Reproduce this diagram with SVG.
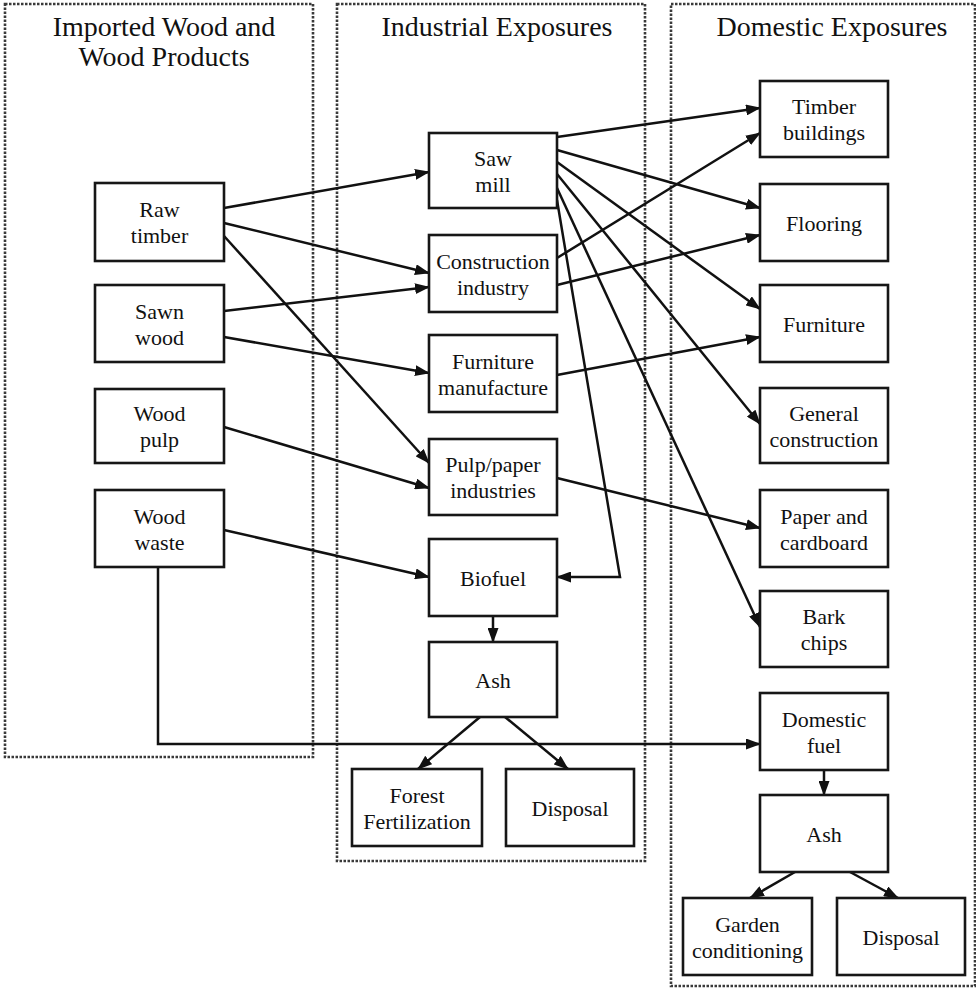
<svg xmlns="http://www.w3.org/2000/svg" width="976" height="988" viewBox="0 0 976 988">
<style>
.box{fill:#fff;stroke:#161616;stroke-width:2.6}
.cont{fill:none;stroke:#3a3a3a;stroke-width:2.6;stroke-dasharray:2.5 1.5}
.c{fill:none;stroke:#111;stroke-width:2.5}
.a{marker-end:url(#arr)}
</style>
<defs>
<marker id="arr" markerUnits="userSpaceOnUse" markerWidth="15" markerHeight="11" refX="14" refY="5.5" orient="auto">
<path d="M0,0 L15,5.5 L0,11 z" fill="#111"/>
</marker>
</defs>
<rect width="976" height="988" fill="#fff"/>
<g id="containers" font-family="'Liberation Serif', 'Times New Roman', serif" font-size="28" fill="#111" text-anchor="middle">
<rect class="cont" x="5" y="4" width="308" height="753"/>
<rect class="cont" x="337" y="4" width="308" height="857"/>
<rect class="cont" x="671" y="4" width="304" height="982"/>
<text x="164" y="36">Imported Wood and</text>
<text x="164" y="66">Wood Products</text>
<text x="497" y="36">Industrial Exposures</text>
<text x="832" y="36">Domestic Exposures</text>
</g>
<g id="connectors">
<line class="c a" x1="224" y1="208" x2="429" y2="172"/>
<line class="c a" x1="224" y1="223" x2="429" y2="273"/>
<line class="c a" x1="224" y1="236" x2="429" y2="463"/>
<line class="c a" x1="224" y1="311" x2="429" y2="287"/>
<line class="c a" x1="224" y1="337" x2="429" y2="373"/>
<line class="c a" x1="224" y1="427" x2="429" y2="488"/>
<line class="c a" x1="224" y1="530" x2="429" y2="577"/>
<path class="c a" d="M158,567 V744 H760"/>
<line class="c a" x1="557" y1="137" x2="760" y2="108"/>
<line class="c a" x1="557" y1="150" x2="760" y2="208"/>
<line class="c a" x1="557" y1="162" x2="760" y2="309"/>
<line class="c a" x1="557" y1="174" x2="760" y2="424"/>
<line class="c a" x1="557" y1="188" x2="760" y2="627"/>
<path class="c a" d="M557,200 L620,577 L557,577"/>
<line class="c a" x1="557" y1="258" x2="760" y2="133"/>
<line class="c a" x1="557" y1="285" x2="760" y2="235"/>
<line class="c a" x1="557" y1="375" x2="760" y2="337"/>
<line class="c a" x1="557" y1="478" x2="760" y2="528"/>
<line class="c a" x1="493" y1="616" x2="493" y2="642"/>
<line class="c a" x1="480" y1="717" x2="418" y2="769"/>
<line class="c a" x1="505" y1="717" x2="568" y2="769"/>
<line class="c a" x1="824" y1="770" x2="824" y2="795"/>
<line class="c a" x1="795" y1="872" x2="750" y2="898"/>
<line class="c a" x1="850" y1="872" x2="898" y2="898"/>
</g>
<g id="nodes" font-family="'Liberation Serif', 'Times New Roman', serif" font-size="22" fill="#111" text-anchor="middle">
<g id="raw-timber"><rect class="box" x="95" y="183" width="129" height="78"/><text x="159.5" y="217">Raw</text><text x="159.5" y="243">timber</text></g>
<g id="sawn-wood"><rect class="box" x="95" y="285" width="129" height="77"/><text x="159.5" y="318.5">Sawn</text><text x="159.5" y="344.5">wood</text></g>
<g id="wood-pulp"><rect class="box" x="95" y="389" width="129" height="74"/><text x="159.5" y="421">Wood</text><text x="159.5" y="447">pulp</text></g>
<g id="wood-waste"><rect class="box" x="95" y="490" width="129" height="77"/><text x="159.5" y="523.5">Wood</text><text x="159.5" y="549.5">waste</text></g>
<g id="saw-mill"><rect class="box" x="429" y="133" width="128" height="75"/><text x="493" y="165.5">Saw</text><text x="493" y="191.5">mill</text></g>
<g id="construction-industry"><rect class="box" x="429" y="235" width="128" height="77"/><text x="493" y="268.5">Construction</text><text x="493" y="294.5">industry</text></g>
<g id="furniture-manufacture"><rect class="box" x="429" y="335" width="128" height="77"/><text x="493" y="368.5">Furniture</text><text x="493" y="394.5">manufacture</text></g>
<g id="pulp-paper"><rect class="box" x="429" y="439" width="128" height="76"/><text x="493" y="472">Pulp/paper</text><text x="493" y="498">industries</text></g>
<g id="biofuel"><rect class="box" x="429" y="539" width="128" height="77"/><text x="493" y="585.5">Biofuel</text></g>
<g id="ash-industrial"><rect class="box" x="429" y="642" width="128" height="75"/><text x="493" y="687.5">Ash</text></g>
<g id="forest-fertilization"><rect class="box" x="352" y="769" width="130" height="77"/><text x="417" y="802.5">Forest</text><text x="417" y="828.5">Fertilization</text></g>
<g id="disposal-industrial"><rect class="box" x="506" y="769" width="128" height="77"/><text x="570" y="815.5">Disposal</text></g>
<g id="timber-buildings"><rect class="box" x="760" y="81" width="128" height="76"/><text x="824" y="114">Timber</text><text x="824" y="140">buildings</text></g>
<g id="flooring"><rect class="box" x="760" y="184" width="128" height="77"/><text x="824" y="230.5">Flooring</text></g>
<g id="furniture"><rect class="box" x="760" y="285" width="128" height="77"/><text x="824" y="331.5">Furniture</text></g>
<g id="general-construction"><rect class="box" x="760" y="388" width="128" height="75"/><text x="824" y="420.5">General</text><text x="824" y="446.5">construction</text></g>
<g id="paper-cardboard"><rect class="box" x="760" y="490" width="128" height="77"/><text x="824" y="523.5">Paper and</text><text x="824" y="549.5">cardboard</text></g>
<g id="bark-chips"><rect class="box" x="760" y="591" width="128" height="76"/><text x="824" y="624">Bark</text><text x="824" y="650">chips</text></g>
<g id="domestic-fuel"><rect class="box" x="760" y="693" width="128" height="77"/><text x="824" y="726.5">Domestic</text><text x="824" y="752.5">fuel</text></g>
<g id="ash-domestic"><rect class="box" x="760" y="795" width="128" height="77"/><text x="824" y="841.5">Ash</text></g>
<g id="garden-conditioning"><rect class="box" x="683" y="898" width="129" height="77"/><text x="747.5" y="931.5">Garden</text><text x="747.5" y="957.5">conditioning</text></g>
<g id="disposal-domestic"><rect class="box" x="837" y="898" width="128" height="77"/><text x="901" y="944.5">Disposal</text></g>
</g>
</svg>
